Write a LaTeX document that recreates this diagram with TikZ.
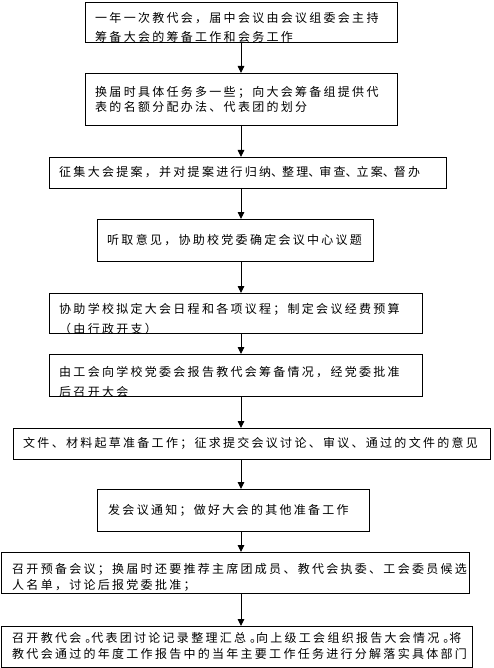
\documentclass[tikz,border=0pt]{standalone}
\usepackage{fontspec}
\newfontfamily\cjk[LetterSpace=19]{Noto Sans CJK SC}
\usetikzlibrary{arrows.meta,fit}
\newcommand\nstop{\makebox[10pt][l]{\hspace{4pt}。}}
\newcommand\ncomma{\makebox[11pt][l]{、}}
\tikzset{
  box/.style={draw=black, line width=0.9pt, inner sep=0pt, outer sep=0pt, fill=none},
  txt/.style={anchor=west, inner sep=0pt, font=\cjk\fontsize{12}{14}\selectfont},
  arr/.style={draw=black, line width=0.9pt, -{Triangle[length=7pt,width=6.5pt]}}
}
\begin{document}
\begin{tikzpicture}[x=1pt,y=-1pt]
\useasboundingbox[fill=white] (0,0) rectangle (494,668);
% boxes
\node[box, fit={(85,2)(397,42)}] (b1) {};
\node[box, fit={(85,73)(397,125)}] (b2) {};
\node[box, fit={(49,157)(446,188)}] (b3) {};
\node[box, fit={(97,219)(373,261)}] (b4) {};
\node[box, fit={(49,293)(422,333)}] (b5) {};
\node[box, fit={(49,354)(422,396)}] (b6) {};
\node[box, fit={(13,428)(490,459)}] (b7) {};
\node[box, fit={(97,489)(369,531)}] (b8) {};
\node[box, fit={(1,552)(469,593)}] (b9) {};
\node[box, fit={(1,626)(472,667)}] (b10) {};
% texts
\node[txt] (t1a) at (95,18) {一年一次教代会，届中会议由会议组委会主持};
\node[txt] (t1b) at (95,37) {筹备大会的筹备工作和会务工作};
\node[txt] (t2a) at (95,92) {换届时具体任务多一些；向大会筹备组提供代};
\node[txt] (t2b) at (95,107) {表的名额分配办法、代表团的划分};
\node[txt] (t3) at (59,172) {征集大会提案，并对提案进行归纳\ncomma 整理\ncomma 审查\ncomma 立案\ncomma 督办};
\node[txt] (t4) at (107,240) {听取意见，协助校党委确定会议中心议题};
\node[txt] (t5a) at (59,309) {协助学校拟定大会日程和各项议程；制定会议经费预算};
\node[txt] (t5b) at (59,329) {（由行政开支）};
\node[txt] (t6a) at (59,372) {由工会向学校党委会报告教代会筹备情况，经党委批准};
\node[txt] (t6b) at (59,392) {后召开大会};
\node[txt] (t7) at (23,443) {文件、材料起草准备工作；征求提交会议讨论、审议、通过的文件的意见};
\node[txt] (t8) at (108,510) {发会议通知；做好大会的其他准备工作};
\node[txt] (t9a) at (12,569) {召开预备会议；换届时还要推荐主席团成员、教代会执委、工会委员候选};
\node[txt] (t9b) at (12,585) {人名单，讨论后报党委批准；};
\node[txt] (t10a) at (12,638) {召开教代会\nstop 代表团讨论记录整理汇总\nstop 向上级工会组织报告大会情况\nstop 将};
\node[txt] (t10b) at (12,654) {教代会通过的年度工作报告中的当年主要工作任务进行分解落实具体部门};
% arrows
\coordinate (ax) at (241,0);
\draw[arr] (b1.south -| ax) -- (b2.north -| ax);
\draw[arr] (b2.south -| ax) -- (b3.north -| ax);
\draw[arr] (b3.south -| ax) -- (b4.north -| ax);
\draw[arr] (b4.south -| ax) -- (b5.north -| ax);
\draw[arr] (b5.south -| ax) -- (b6.north -| ax);
\draw[arr] (b6.south -| ax) -- (b7.north -| ax);
\draw[arr] (b7.south -| ax) -- (b8.north -| ax);
\draw[arr] (b8.south -| ax) -- (b9.north -| ax);
\draw[arr] (b9.south -| ax) -- (b10.north -| ax);
\end{tikzpicture}
\end{document}
